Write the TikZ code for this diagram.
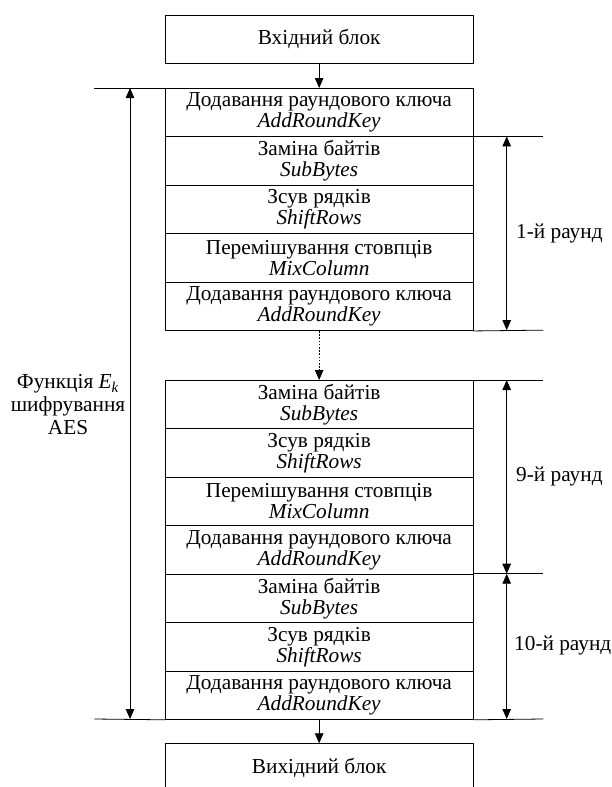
\documentclass[tikz,border=0pt]{standalone}
\usepackage{fontspec}
\setmainfont{Liberation Serif}
\usetikzlibrary{arrows.meta}
\begin{document}
\begin{tikzpicture}[x=1pt,y=-1pt,
  every node/.style={font=\fontsize{21.3}{21}\selectfont},
  blk/.style={draw, line width=0.8pt, rectangle, inner sep=0pt, minimum width=307.5pt, minimum height=48.43pt, align=center, anchor=north west},
  io/.style={blk, minimum height=47.7pt},
  ln/.style={line width=0.8pt},
  arr/.style={line width=0.8pt, -{Triangle[length=10pt,width=8.5pt]}},
  darr/.style={line width=0.8pt, {Triangle[length=10pt,width=8.5pt]}-{Triangle[length=10pt,width=8.5pt]}},
  lbl/.style={anchor=west, inner sep=0pt}]
\useasboundingbox (0,0) rectangle (612,787);
\clip (0,0) rectangle (612,787);
% input
\node[io] (in) at (165,15) {Вхідний блок};
% first stack
\node[blk] (a0) at (165,88) {Додавання раундового ключа\\\textit{AddRoundKey}};
\node[blk] (a1) at (165,136.43) {Заміна байтів\\\textit{SubBytes}};
\node[blk] (a2) at (165,184.86) {Зсув рядків\\\textit{ShiftRows}};
\node[blk] (a3) at (165,233.29) {Перемішування стовпців\\\textit{MixColumn}};
\node[blk] (a4) at (165,281.72) {Додавання раундового ключа\\\textit{AddRoundKey}};
% second stack
\node[blk] (b0) at (165,380) {Заміна байтів\\\textit{SubBytes}};
\node[blk] (b1) at (165,428.43) {Зсув рядків\\\textit{ShiftRows}};
\node[blk] (b2) at (165,476.86) {Перемішування стовпців\\\textit{MixColumn}};
\node[blk] (b3) at (165,525.29) {Додавання раундового ключа\\\textit{AddRoundKey}};
\node[blk] (b4) at (165,573.72) {Заміна байтів\\\textit{SubBytes}};
\node[blk] (b5) at (165,622.15) {Зсув рядків\\\textit{ShiftRows}};
\node[blk] (b6) at (165,670.58) {Додавання раундового ключа\\\textit{AddRoundKey}};
% output
\node[io] (out) at (165,743.3) {Вихідний блок};
% connectors between blocks
\draw[arr] (in.south) -- (a0.north);
\draw[arr, dash pattern=on 1.6pt off 1.6pt] (a4.south) -- (b0.north);
\draw[arr] (b6.south) -- (out.north);
% extension lines
\coordinate (lt) at (94.3,88);
\coordinate (lb) at (94.3,719);
\coordinate (e1) at (543.3,136.43);
\coordinate (e2) at (543.3,330.15);
\coordinate (e3) at (543.3,380);
\coordinate (e4) at (543.3,573.72);
\coordinate (e5) at (543.3,719);
\draw[ln] (lt) -- (a0.north west);
\draw[ln] (lb) -- (b6.south west);
\draw[ln] (a1.north east) -- (e1);
\draw[ln] (a4.south east) -- (e2);
\draw[ln] (b0.north east) -- (e3);
\draw[ln] (b4.north east) -- (e4);
\draw[ln] (b6.south east) -- (e5);
% dimension arrows
\coordinate (p1) at (130,88);
\coordinate (p2) at (130,719);
\draw[darr] (p1) -- (p2);
\coordinate (q1) at (506.7,136.43);
\coordinate (q2) at (506.7,330.15);
\coordinate (q3) at (506.7,380);
\coordinate (q4) at (506.7,573.72);
\coordinate (q5) at (506.7,719);
\draw[darr] (q1) -- (q2);
\draw[darr] (q3) -- (q4);
\draw[darr] (q4) -- (q5);
% labels
\node[lbl] (l1) at (516,234) {1-й раунд};
\node[lbl] (l9) at (516,477) {9-й раунд};
\node[lbl] (l10) at (514,646) {10-й раунд};
\node[align=center, font=\fontsize{21.3}{23}\selectfont] (fn) at (68,405) {Функція \textit{E}\textsubscript{\textit{k}}\\шифрування\\AES};
\end{tikzpicture}
\end{document}
